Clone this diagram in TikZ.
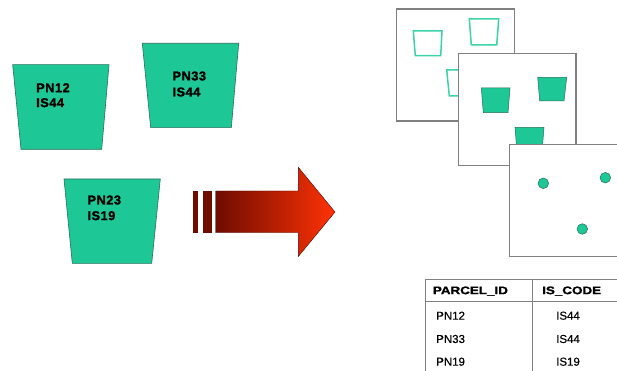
\documentclass[tikz,border=0pt]{standalone}
\usepackage{fontspec}
\setmainfont{Liberation Sans}
\newfontfamily\parfont[LetterSpace=4,FakeBold=1.6]{Liberation Sans}
\newfontfamily\hdrfont[FakeStretch=1.22,FakeBold=1.4]{Liberation Sans}
\newfontfamily\cellfont[FakeBold=0.4]{Liberation Sans}
\definecolor{tealfill}{RGB}{30,200,150}
\definecolor{tealline}{RGB}{40,110,90}
\definecolor{teallight}{RGB}{60,210,170}
\definecolor{panelgray}{RGB}{128,128,128}
\definecolor{arrowdark}{RGB}{110,12,0}
\definecolor{arrowbright}{RGB}{255,50,5}
\begin{document}
\begin{tikzpicture}[x=1pt,y=-1pt,
  parcel/.style={fill=tealfill,draw=tealline,line width=0.6pt},
  ptext/.style={anchor=west,inner sep=0pt,font=\parfont\bfseries\fontsize{12.8}{14}\selectfont},
  panel/.style={fill=white,draw=panelgray,line width=1.1pt},
  hollow/.style={draw=teallight,line width=1.5pt},
  solidp/.style={fill=tealfill,draw=tealline,line width=0.5pt},
  dot/.style={circle,fill=tealfill,draw=tealline,line width=0.5pt,minimum size=10.6pt,inner sep=0pt},
  bar/.style={fill=arrowdark},
  tbl/.style={draw=panelgray,line width=0.9pt},
  hdr/.style={anchor=west,inner sep=0pt,font=\hdrfont\bfseries\fontsize{11}{13}\selectfont},
  cell/.style={anchor=west,inner sep=0pt,font=\cellfont\fontsize{11.5}{13}\selectfont}
]
\useasboundingbox (0,0) rectangle (617,371);

% parcels
\draw[parcel] (12.7,64.7) -- (109,64.7) -- (101.7,149.3) -- (21,149.3) -- cycle;
\draw[parcel] (142.3,43.3) -- (238.7,43.3) -- (231.3,127.7) -- (150.7,127.7) -- cycle;
\draw[parcel] (64,179) -- (160.3,179) -- (151.7,263.3) -- (72.3,263.3) -- cycle;
\node[ptext] (p1a) at (36,87.7) {PN12};
\node[ptext] (p1b) at (36,102.7) {IS44};
\node[ptext] (p2a) at (172.3,76) {PN33};
\node[ptext] (p2b) at (172.3,92) {IS44};
\node[ptext] (p3a) at (87.3,200) {PN23};
\node[ptext] (p3b) at (87.3,215.7) {IS19};

% arrow
\fill[bar] (193.3,191) rectangle (198.3,232.7);
\fill[bar] (202.7,191) rectangle (211.7,232.7);
\shade[left color=arrowdark,right color=arrowbright,draw=arrowdark!70!black,line width=0.4pt]
  (215.7,191) -- (298.3,191) -- (298.3,167.3) -- (335,212) -- (298.3,256.5) -- (298.3,232.7) -- (215.7,232.7) -- cycle;

% panel 1
\draw[panel] (396.7,9) rectangle (514.3,121);
\draw[hollow] (413.3,31) -- (442,31) -- (440.7,55.7) -- (415.3,55.7) -- cycle;
\draw[hollow] (469.3,19) -- (498.7,19) -- (496.7,45) -- (471.3,45) -- cycle;
\draw[hollow] (446.7,70) -- (475.5,70) -- (473.5,96) -- (449.3,96) -- cycle;
% panel 2
\draw[panel] (458.3,53.3) rectangle (576,165.7);
\draw[solidp] (481.3,88) -- (510,88) -- (508,112.7) -- (483.3,112.7) -- cycle;
\draw[solidp] (537.7,77.3) -- (566.7,77.3) -- (564,101) -- (539.7,101) -- cycle;
\draw[solidp] (515,127.3) -- (544,127.3) -- (542,152) -- (517,152) -- cycle;
% panel 3
\draw[panel] (509.3,144.3) rectangle (622,256.7);
\node[dot] (d1) at (543.3,183.3) {};
\node[dot] (d2) at (605.3,177.7) {};
\node[dot] (d3) at (582.3,229) {};

% table
\draw[tbl] (425,279) -- (620,279);
\draw[tbl] (425,301.7) -- (620,301.7);
\draw[tbl] (425,279) -- (425,373);
\draw[tbl] (532.7,279) -- (532.7,373);
\node[hdr] (h1) at (432.7,291) {PARCEL\_ID};
\node[hdr] (h2) at (542,291) {IS\_CODE};
\node[cell] (r1a) at (436,315.7) {PN12};
\node[cell] (r1b) at (556,315.7) {IS44};
\node[cell] (r2a) at (436,339) {PN33};
\node[cell] (r2b) at (556,339) {IS44};
\node[cell] (r3a) at (436,361.7) {PN19};
\node[cell] (r3b) at (556,361.7) {IS19};
\end{tikzpicture}
\end{document}
